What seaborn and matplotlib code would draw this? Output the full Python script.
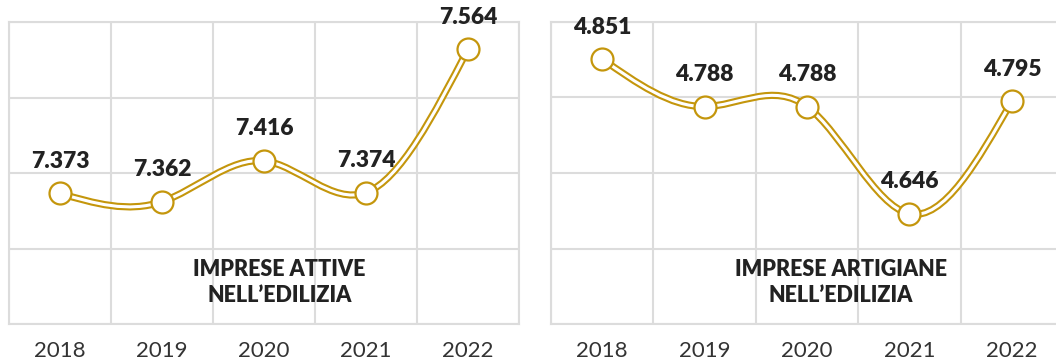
import numpy as np
import matplotlib.pyplot as plt
import seaborn as sns
from matplotlib.path import Path
from matplotlib.patches import PathPatch

# data
years = ['2018', '2019', '2020', '2021', '2022']
attive = [7.373, 7.362, 7.416, 7.374, 7.564]
artigiane = [4.851, 4.788, 4.788, 4.646, 4.795]
attive_labels = ['7.373', '7.362', '7.416', '7.374', '7.564']
artigiane_labels = ['4.851', '4.788', '4.788', '4.646', '4.795']
titles = ['IMPRESE ATTIVE\nNELL\u2019EDILIZIA', 'IMPRESE ARTIGIANE\nNELL\u2019EDILIZIA']

GOLD = '#c4960c'
GRID = '#dcdcdc'
TXT = '#222222'

sns.set_theme(style='white')
plt.rcParams['font.family'] = ['Lato', 'DejaVu Sans']


def spline_path(ys):
    # natural cubic spline through the points, written as bezier segments
    y = np.asarray(ys, dtype=float)
    n = len(y)
    A = np.zeros((n, n))
    b = np.zeros(n)
    A[0, 0] = A[-1, -1] = 1
    for i in range(1, n - 1):
        A[i, i - 1:i + 2] = [1, 4, 1]
        b[i] = 6 * (y[i + 1] - 2 * y[i] + y[i - 1])
    M = np.linalg.solve(A, b)
    d = np.zeros(n)
    for i in range(n - 1):
        d[i] = (y[i + 1] - y[i]) - (2 * M[i] + M[i + 1]) / 6
    d[-1] = (y[-1] - y[-2]) + (M[-2] + 2 * M[-1]) / 6
    verts = [(0.0, y[0])]
    codes = [Path.MOVETO]
    for i in range(n - 1):
        verts += [(i + 1 / 3, y[i] + d[i] / 3),
                  (i + 2 / 3, y[i + 1] - d[i + 1] / 3),
                  (i + 1.0, y[i + 1])]
        codes += [Path.CURVE4] * 3
    return Path(verts, codes)


fig = plt.figure(figsize=(10.56, 3.6), dpi=100)
ax1 = fig.add_axes([9 / 1056, 36 / 360, 510 / 1056, 302 / 360])
ax2 = fig.add_axes([551 / 1056, 36 / 360, 512 / 1056, 302 / 360])

panels = [
    (ax1, attive, attive_labels, (7.2, 7.6), titles[0], 0.53),
    (ax2, artigiane, artigiane_labels, (4.5, 4.9), titles[1], 0.566),
]

for ax, vals, labs, ylim, title, tx in panels:
    pos = np.arange(len(years))
    ax.set_xlim(-0.5, len(years) - 0.5)
    ax.set_ylim(*ylim)
    ax.set_yticks(np.linspace(ylim[0], ylim[1], 5))
    ax.set_yticklabels([])
    ax.set_xticks(pos)
    ax.set_xticklabels(years, fontsize=16, fontweight='normal', color='#333333')
    ax.set_xticks(np.arange(-0.5, len(years)), minor=True)
    ax.tick_params(axis='both', which='both', length=0)
    ax.tick_params(axis='x', pad=12)
    ax.grid(False)
    ax.grid(axis='y', which='major', color=GRID, lw=1.5)
    ax.grid(axis='x', which='minor', color=GRID, lw=1.5)
    for s in ax.spines.values():
        s.set_color(GRID)
        s.set_linewidth(1.5)

    path = spline_path(vals)
    ax.add_patch(PathPatch(path, fill=False, edgecolor=GOLD, lw=5.2, zorder=3,
                           capstyle='butt', joinstyle='round'))
    ax.add_patch(PathPatch(path, fill=False, edgecolor='white', lw=2.2, zorder=4,
                           capstyle='butt', joinstyle='round'))
    sns.scatterplot(x=pos, y=vals, ax=ax, s=250, color='white', edgecolor=GOLD,
                    linewidth=1.6, zorder=5, legend=False)
    for x, y, t in zip(pos, vals, labs):
        ax.annotate(t, (x, y), xytext=(0, 23), textcoords='offset points',
                    ha='center', va='center', fontsize=16.5, fontweight='heavy',
                    color=TXT, zorder=6, annotation_clip=False)
    ax.text(tx, 0.136, title, transform=ax.transAxes, ha='center', va='center',
            fontsize=15.5, fontweight='heavy', color=TXT, linespacing=1.3, zorder=6)

fig.savefig('out.png', dpi=100)
